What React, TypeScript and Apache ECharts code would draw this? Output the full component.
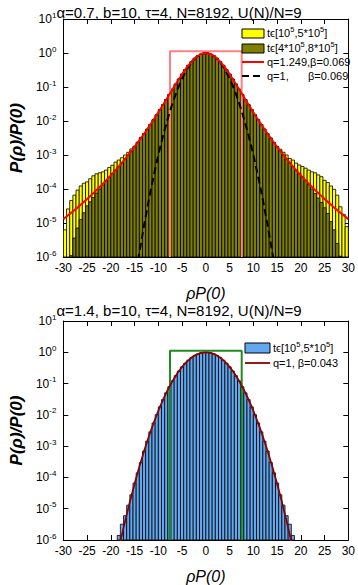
import React, { useEffect, useRef } from 'react';
import * as echarts from 'echarts';

const FONT = 'Liberation Sans, Arial, Helvetica, sans-serif';

// Histogram bins (width in ρP(0) units)
const binWidth = 2 / 3;
const topBinStart = -30;
const bottomBinStart = -28 * (2 / 3);

// t ∈ [1e5, 5e5]  (alpha = 0.7), 90 bins from -30 to 30
const yellowValues = [
  6.3e-6, 2.6e-5, 4.6e-5, 6.6e-5, 9.3e-5, 1.23e-4, 1.48e-4, 1.62e-4, 2.0e-4, 2.45e-4,
  2.8e-4, 3.0e-4, 3.2e-4, 3.6e-4, 4.3e-4, 5.0e-4, 6.2e-4, 7.1e-4, 8.3e-4, 1.0e-3,
  1.2e-3, 1.51e-3, 1.82e-3, 2.4e-3, 3.31e-3,
  4.21e-3, 5.75e-3, 7.9e-3, 1.093e-2, 1.524e-2, 2.137e-2, 3.01e-2, 4.27e-2, 6.06e-2, 8.6e-2,
  0.1218, 0.1713, 0.238, 0.325, 0.434, 0.561, 0.698, 0.829, 0.934, 0.992,
  0.992, 0.934, 0.829, 0.698, 0.561, 0.434, 0.325, 0.238, 0.1713, 0.1218,
  8.6e-2, 6.06e-2, 4.27e-2, 3.01e-2, 2.137e-2, 1.524e-2, 1.093e-2, 7.9e-3, 5.75e-3, 4.21e-3,
  3.16e-3, 2.29e-3, 1.78e-3, 1.48e-3, 1.2e-3, 1.0e-3, 7.9e-4, 7.1e-4, 5.8e-4, 5.1e-4,
  4.6e-4, 4.1e-4, 3.6e-4, 3.2e-4, 3.0e-4, 2.6e-4, 2.3e-4, 1.8e-4, 1.55e-4, 1.23e-4,
  9.8e-5, 6.6e-5, 3.0e-5, 1.8e-5, 7.8e-6,
];

// t ∈ [4e5, 8e5]  (alpha = 0.7), 90 bins from -30 to 30
const oliveValues = [
  null, null, 1.1e-6, 3.6e-6, 7.1e-6, 1.26e-5, 2.0e-5, 3.2e-5, 4.2e-5, 5.6e-5,
  7.6e-5, 1.0e-4, 1.32e-4, 1.74e-4, 2.24e-4, 2.83e-4, 3.6e-4, 4.6e-4, 5.9e-4, 7.7e-4,
  1.0e-3, 1.32e-3, 1.74e-3, 2.32e-3, 3.11e-3,
  4.21e-3, 5.75e-3, 7.9e-3, 1.093e-2, 1.524e-2, 2.137e-2, 3.01e-2, 4.27e-2, 6.06e-2, 8.6e-2,
  0.1218, 0.1713, 0.238, 0.325, 0.434, 0.561, 0.698, 0.829, 0.934, 0.992,
  0.992, 0.934, 0.829, 0.698, 0.561, 0.434, 0.325, 0.238, 0.1713, 0.1218,
  8.6e-2, 6.06e-2, 4.27e-2, 3.01e-2, 2.137e-2, 1.524e-2, 1.093e-2, 7.9e-3, 5.75e-3, 4.21e-3,
  3.11e-3, 2.32e-3, 1.74e-3, 1.32e-3, 1.0e-3, 7.7e-4, 5.9e-4, 4.6e-4, 3.6e-4, 2.83e-4,
  2.24e-4, 1.78e-4, 1.35e-4, 1.0e-4, 7.4e-5, 5.4e-5, 4.0e-5, 2.8e-5, 1.9e-5, 1.1e-5,
  6.3e-6, 2.5e-6, 1.05e-6, null, null,
];

// t ∈ [1e5, 5e5]  (alpha = 1.4), 56 bins from -18.67 to 18.67
const blueValues = [
  1.4e-6, 3.2e-6, 6.0e-6, 1.3e-5, 2.8e-5, 6.6e-5, 1.4e-4, 3.0e-4, 6.98e-4, 1.443e-3,
  2.87e-3, 5.5e-3, 1.014e-2, 1.799e-2, 3.07e-2, 5.05e-2, 7.99e-2, 0.1216, 0.1782, 0.2514,
  0.341, 0.446, 0.561, 0.679, 0.791, 0.887, 0.958, 0.995,
  0.995, 0.958, 0.887, 0.791, 0.679, 0.561, 0.446, 0.341, 0.2514, 0.1782,
  0.1216, 7.99e-2, 5.05e-2, 3.07e-2, 1.799e-2, 1.014e-2, 5.5e-3, 2.87e-3, 1.443e-3, 6.98e-4,
  3.0e-4, 1.4e-4, 6.6e-5, 2.8e-5, 1.3e-5, 6.0e-6, 3.2e-6, 1.4e-6,
];

// q-Gaussian fit q=1.249, β=0.069, at x = -30..30
const qCurveX = [
  -30, -29, -28, -27, -26, -25, -24, -23, -22, -21, -20, -19, -18, -17, -16, -15, -14, -13, -12, -11,
  -10, -9, -8, -7, -6, -5, -4, -3, -2, -1, 0, 1, 2, 3, 4, 5, 6, 7, 8, 9, 10,
  11, 12, 13, 14, 15, 16, 17, 18, 19, 20, 21, 22, 23, 24, 25, 26, 27, 28, 29, 30,
];
const qCurveY = [
  1.30e-5, 1.68e-5, 2.19e-5, 2.87e-5, 3.79e-5, 5.06e-5, 6.83e-5, 9.30e-5, 1.28e-4, 1.79e-4,
  2.52e-4, 3.60e-4, 5.22e-4, 7.67e-4, 1.146e-3, 1.739e-3, 2.685e-3, 4.214e-3, 6.73e-3, 1.093e-2,
  1.803e-2, 3.014e-2, 5.08e-2, 8.60e-2, 0.1446, 0.238, 0.3771, 0.5613, 0.7661, 0.9339,
  1,
  0.9339, 0.7661, 0.5613, 0.3771, 0.238, 0.1446, 8.60e-2, 5.08e-2, 3.014e-2, 1.803e-2,
  1.093e-2, 6.73e-3, 4.214e-3, 2.685e-3, 1.739e-3, 1.146e-3, 7.67e-4, 5.22e-4, 3.60e-4, 2.52e-4,
  1.79e-4, 1.28e-4, 9.30e-5, 6.83e-5, 5.06e-5, 3.79e-5, 2.87e-5, 2.19e-5, 1.68e-5, 1.30e-5,
];

// Gaussian fit q=1, β=0.069, at x = -15..15
const gTopX = [-15, -14, -13, -12, -11, -10, -9, -8, -7, -6, -5, -4, -3, -2, -1, 0, 1, 2, 3, 4, 5, 6, 7, 8, 9, 10, 11, 12, 13, 14, 15];
const gTopY = [
  1.8e-7, 1.34e-6, 8.63e-6, 4.84e-5, 2.37e-4, 1.008e-3, 3.74e-3, 1.209e-2, 3.40e-2, 8.34e-2,
  0.178, 0.332, 0.537, 0.759, 0.933, 1, 0.933, 0.759, 0.537, 0.332,
  0.178, 8.34e-2, 3.40e-2, 1.209e-2, 3.74e-3, 1.008e-3, 2.37e-4, 4.84e-5, 8.63e-6, 1.34e-6, 1.8e-7,
];

// Gaussian fit q=1, β=0.043, at x = -19..19
const gBotX = [-19, -18, -17, -16, -15, -14, -13, -12, -11, -10, -9, -8, -7, -6, -5, -4, -3, -2, -1, 0, 1, 2, 3, 4, 5, 6, 7, 8, 9, 10, 11, 12, 13, 14, 15, 16, 17, 18, 19];
const gBotY = [
  1.8e-7, 8.9e-7, 4.01e-6, 1.657e-5, 6.28e-5, 2.187e-4, 6.98e-4, 2.046e-3, 5.50e-3, 1.357e-2,
  3.07e-2, 6.38e-2, 0.1216, 0.2127, 0.341, 0.503, 0.679, 0.842, 0.958, 1,
  0.958, 0.842, 0.679, 0.503, 0.341, 0.2127, 0.1216, 6.38e-2, 3.07e-2, 1.357e-2,
  5.50e-3, 2.046e-3, 6.98e-4, 2.187e-4, 6.28e-5, 1.657e-5, 4.01e-6, 8.9e-7, 1.8e-7,
];

// Box (uniform window) edges and height
const boxX = [-7.55, 7.55];
const boxTop = 1.12;
const yMin = 1e-6;
const yMax = 10;

const titles = [
  'α=0.7, b=10, τ=4, N=8192, U(N)/N=9',
  'α=1.4, b=10, τ=4, N=8192, U(N)/N=9',
];

function histSeries(values: (number | null)[], start: number, color: string, g: number) {
  const data: number[][] = [];
  values.forEach((v, i) => {
    if (v != null) data.push([start + i * binWidth, start + (i + 1) * binWidth, v]);
  });
  return {
    type: 'custom',
    xAxisIndex: g * 2,
    yAxisIndex: g * 2,
    data,
    encode: { x: [0, 1], y: 2 },
    clip: true,
    renderItem: (params: any, api: any) => {
      const p0 = api.coord([api.value(0), api.value(2)]);
      const p1 = api.coord([api.value(1), yMin]);
      return {
        type: 'rect',
        shape: { x: p0[0], y: p0[1], width: p1[0] - p0[0], height: p1[1] - p0[1] },
        style: { fill: color, stroke: '#000', lineWidth: 0.8 },
      };
    },
  };
}

function lineSeries(xs: number[], ys: number[], color: string, width: number, g: number, dash?: number[]) {
  return {
    type: 'line',
    xAxisIndex: g * 2,
    yAxisIndex: g * 2,
    data: xs.map((x, i) => [x, ys[i]]),
    symbol: 'none',
    clip: true,
    lineStyle: { color, width, type: dash ? dash : 'solid' },
  };
}

function boxSeries(color: string, g: number) {
  return {
    type: 'line',
    xAxisIndex: g * 2,
    yAxisIndex: g * 2,
    data: [
      [boxX[0], yMin],
      [boxX[0], boxTop],
      [boxX[1], boxTop],
      [boxX[1], yMin],
    ],
    symbol: 'none',
    lineStyle: { color, width: 2 },
  };
}

function xAxes(g: number) {
  const line = { show: true, onZero: false, lineStyle: { color: '#000', width: 1 } };
  const tick = { show: true, inside: true, length: 5, lineStyle: { color: '#000' } };
  return [
    {
      type: 'value', gridIndex: g, min: -30, max: 30, interval: 5, position: 'bottom',
      axisLine: line, axisTick: tick, splitLine: { show: false },
      axisLabel: { fontSize: 12, color: '#000', fontFamily: FONT, margin: 5 },
      name: 'ρP(0)', nameLocation: 'middle', nameGap: 28,
      nameTextStyle: { fontSize: 16, fontStyle: 'italic', color: '#000', fontFamily: FONT },
    },
    {
      type: 'value', gridIndex: g, min: -30, max: 30, interval: 5, position: 'top',
      axisLine: line, axisTick: tick, splitLine: { show: false }, axisLabel: { show: false },
    },
  ];
}

function yAxes(g: number) {
  const line = { show: true, onZero: false, lineStyle: { color: '#000', width: 1 } };
  const tick = { show: true, inside: true, length: 5, lineStyle: { color: '#000' } };
  return [
    {
      type: 'log', logBase: 10, gridIndex: g, min: yMin, max: yMax, interval: 1, position: 'left',
      axisLine: line, axisTick: tick, splitLine: { show: false }, minorTick: { show: false },
      axisLabel: {
        margin: 7,
        formatter: (v: number) => `{n|10}{s|${Math.round(Math.log10(v))}}`,
        rich: {
          n: { fontSize: 12, color: '#000', fontFamily: FONT, lineHeight: 16 },
          s: { fontSize: 8, color: '#000', fontFamily: FONT, lineHeight: 8, verticalAlign: 'top' },
        },
      },
      name: 'P(ρ)/P(0)', nameLocation: 'middle', nameGap: 38, nameRotate: 90,
      nameTextStyle: { fontSize: 17, fontStyle: 'italic', fontWeight: 'bold', color: '#000', fontFamily: FONT },
    },
    {
      type: 'log', logBase: 10, gridIndex: g, min: yMin, max: yMax, interval: 1, position: 'right',
      axisLine: line, axisTick: tick, splitLine: { show: false }, axisLabel: { show: false },
      minorTick: { show: false },
    },
  ];
}

const richLegend = {
  n: { fontSize: 11, fontFamily: FONT, color: '#000', lineHeight: 15 },
  s: { fontSize: 7.5, fontFamily: FONT, color: '#000', lineHeight: 7.5, verticalAlign: 'top' },
};

function legendText(x: number, y: number, text: string) {
  return {
    type: 'text', x, y, z: 100,
    style: { text, rich: richLegend, verticalAlign: 'middle', align: 'left' },
  };
}

export default function App() {
  const ref = useRef<HTMLDivElement>(null);
  useEffect(() => {
    if (!ref.current) return;
    const chart = echarts.init(ref.current, undefined, { renderer: 'svg' });
    chart.setOption({
      animation: false,
      backgroundColor: '#fff',
      title: [
        { text: titles[0], left: 'center', top: 0, textStyle: { fontSize: 15, fontWeight: 'normal', color: '#000', fontFamily: FONT } },
        { text: titles[1], left: 'center', top: 298, textStyle: { fontSize: 15, fontWeight: 'normal', color: '#000', fontFamily: FONT } },
      ],
      grid: [
        { left: 54, top: 19, width: 296, height: 238 },
        { left: 54, top: 321, width: 296, height: 238 },
      ],
      xAxis: [...xAxes(0), ...xAxes(1)],
      yAxis: [...yAxes(0), ...yAxes(1)],
      series: [
        histSeries(yellowValues, topBinStart, '#ffff00', 0),
        histSeries(oliveValues, topBinStart, '#808000', 0),
        boxSeries('#ff8080', 0),
        lineSeries(gTopX, gTopY, '#000', 2, 0, [7, 4]),
        lineSeries(qCurveX, qCurveY, '#ff0000', 2, 0),
        histSeries(blueValues, bottomBinStart, '#62a8f0', 1),
        boxSeries('#1f8a1f', 1),
        lineSeries(gBotX, gBotY, '#8b0000', 1.8, 1),
      ],
      graphic: [
        { type: 'rect', z: 100, shape: { x: 242, y: 29, width: 22, height: 9 }, style: { fill: '#ffff00', stroke: '#000', lineWidth: 1 } },
        legendText(267, 33, '{n|tϵ[10}{s|5}{n|,5*10}{s|5}{n|]}'),
        { type: 'rect', z: 100, shape: { x: 242, y: 44, width: 22, height: 9 }, style: { fill: '#808000', stroke: '#000', lineWidth: 1 } },
        legendText(267, 48, '{n|tϵ[4*10}{s|5}{n|,8*10}{s|5}{n|]}'),
        { type: 'line', z: 100, shape: { x1: 242, y1: 62, x2: 264, y2: 62 }, style: { stroke: '#ff0000', lineWidth: 2 } },
        legendText(267, 62, '{n|q=1.249,β=0.069}'),
        { type: 'line', z: 100, shape: { x1: 242, y1: 76, x2: 264, y2: 76 }, style: { stroke: '#000', lineWidth: 2, lineDash: [7, 4] } },
        legendText(267, 76, '{n|q=1,}'),
        legendText(308, 76, '{n|β=0.069}'),
        { type: 'rect', z: 100, shape: { x: 245, y: 343, width: 25, height: 10 }, style: { fill: '#62a8f0', stroke: '#000', lineWidth: 1 } },
        legendText(273, 348, '{n|tϵ[10}{s|5}{n|,5*10}{s|5}{n|]}'),
        { type: 'line', z: 100, shape: { x1: 245, y1: 363, x2: 270, y2: 363 }, style: { stroke: '#8b0000', lineWidth: 1.8 } },
        legendText(273, 363, '{n|q=1, β=0.043}'),
      ],
    });
    return () => chart.dispose();
  }, []);
  return <div ref={ref} style={{ position: 'fixed', left: 0, top: 0, width: 358, height: 585 }} />;
}
